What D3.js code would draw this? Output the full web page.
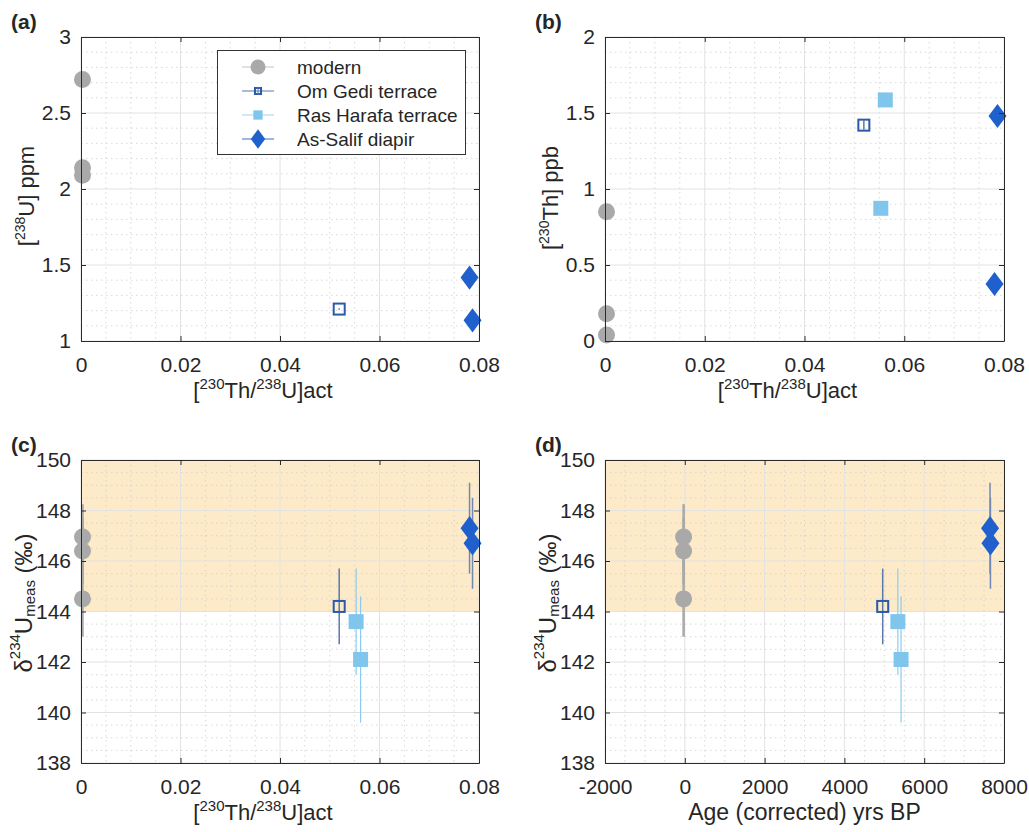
<!DOCTYPE html>
<html>
<head>
<meta charset="utf-8">
<script src="https://d3js.org/d3.v7.min.js"></script>
<style>
  body { margin: 0; background: #fff; }
  text { font-family: 'Liberation Sans', Arial, Helvetica, sans-serif; fill: #262626; }
</style>
</head>
<body>
<div id="chart"></div>
<script>
// ---- data ----

// modern corals
const modernThU = [0.0003, 0.0003, 0.0003];
const modernU = [2.72, 2.14, 2.09];
const modernTh = [0.85, 0.18, 0.04];
const modernD234 = [146.95, 146.4, 144.5];
const modernD234Err = [1.3, 1.3, 1.5];
const modernAge = [-30, -30, -30];

// Om Gedi terrace
const omGediThU = [0.0519];
const omGediU = [1.21];
const omGediUErr = [0.005];
const omGediTh = [1.42];
const omGediThErr = [0.03];
const omGediD234 = [144.2];
const omGediD234Err = [1.5];
const omGediAge = [4960];

// Ras Harafa terrace (no [238U] value)
const rasHarafaThU = [0.0553, 0.0562];
const rasHarafaTh = [0.873, 1.586];
const rasHarafaD234 = [143.6, 142.1];
const rasHarafaD234Err = [2.1, 2.5];
const rasHarafaAge = [5340, 5420];

// As-Salif diapir
const asSalifThU = [0.0781, 0.0787];
const asSalifU = [1.417, 1.136];
const asSalifTh = [0.375, 1.48];
const asSalifD234 = [147.3, 146.7];
const asSalifD234Err = [1.8, 1.8];
const asSalifAge = [7650, 7660];

// seawater band for d234U
const seawaterBand = [144, 150];

// axis ticks
const thuTicks = [0, 0.02, 0.04, 0.06, 0.08];
const uTicks = [1, 1.5, 2, 2.5, 3];
const thTicks = [0, 0.5, 1, 1.5, 2];
const d234Ticks = [138, 140, 142, 144, 146, 148, 150];
const ageTicks = [-2000, 0, 2000, 4000, 6000, 8000];

const legendNames = ["modern", "Om Gedi terrace", "Ras Harafa terrace", "As-Salif diapir"];

// ---- styles ----
const styles = {
  modern:    { shape: "circle", size: 17, fill: "#a9a9a9", stroke: "none", err: "#a9a9a9", errW: 2.5, legLine: "#c4c4c4" },
  omGedi:    { shape: "square", size: 13, fill: "none", stroke: "#2a5aa8", err: "#5a78a8", errW: 1.5, legLine: "#5a78a8" },
  rasHarafa: { shape: "square", size: 15, fill: "#80c6ec", stroke: "none", err: "#8ccbef", errW: 1.2, legLine: "#9fd3f0" },
  asSalif:   { shape: "diamond", size: 18, fill: "#1f60cc", stroke: "none", err: "#7088b3", errW: 1.5, legLine: "#3c6fc4" }
};

const width = 1029;
const height = 832;

const svg = d3.select("#chart")
    .append("svg")
    .attr("width", width)
    .attr("height", height);

function drawMarker(sel, st, cx, cy, s) {
  const size = st.size * s;
  if (st.shape === "circle") {
    sel.append("circle").attr("cx", cx).attr("cy", cy).attr("r", size / 2)
        .attr("fill", st.fill);
  } else if (st.shape === "square") {
    const inset = st.fill === "none" ? 1 : 0;
    sel.append("rect")
        .attr("x", cx - size / 2 + inset).attr("y", cy - size / 2 + inset)
        .attr("width", size - 2 * inset).attr("height", size - 2 * inset)
        .attr("fill", st.fill).attr("stroke", st.stroke).attr("stroke-width", 2);
  } else {
    const hw = size / 2, hh = size * 0.67;
    sel.append("path")
        .attr("d", `M${cx},${cy - hh}L${cx + hw},${cy}L${cx},${cy + hh}L${cx - hw},${cy}Z`)
        .attr("fill", st.fill);
  }
}

// text with super / subscripts; parts are plain strings or {sup} / {sub} objects
function richText(text, parts, o) {
  let cur = 0;
  parts.forEach(function(part) {
    let str = part, fs = o.size, target = 0;
    if (typeof part !== "string") {
      if (part.up !== undefined) { str = part.up; fs = o.supSize; target = -o.supRaise; }
      else { str = part.down; fs = o.subSize; target = o.subDrop; }
    }
    text.append("tspan")
        .attr("font-size", fs)
        .attr("dy", target - cur)
        .text(str);
    cur = target;
  });
}

const thuLabel = ["[", {up: "230"}, "Th/", {up: "238"}, "U]act"];
const d234Label = ["δ", {up: "234"}, "U", {down: "meas"}, " (‰)"];

const xLabelFont = { size: 22, supSize: 15, supRaise: 9 };
const concLabelFont = { size: 22, supSize: 14, supRaise: 9 };
const d234LabelFont = { size: 24, supSize: 15, supRaise: 12, subSize: 15, subDrop: 3 };

function drawPanel(p) {
  const x = d3.scaleLinear().domain(p.xDomain).range([p.left, p.left + p.w]);
  const y = d3.scaleLinear().domain(p.yDomain).range([p.top + p.h, p.top]);
  const g = svg.append("g");

  if (p.band) {
    g.append("rect")
        .attr("x", x(p.xDomain[0])).attr("y", y(p.band[1]))
        .attr("width", x(p.xDomain[1]) - x(p.xDomain[0]))
        .attr("height", y(p.band[0]) - y(p.band[1]))
        .attr("fill", "#fdeac8");
  }

  // minor grid
  const nx = Math.round((p.xDomain[1] - p.xDomain[0]) / p.xMinor);
  const ny = Math.round((p.yDomain[1] - p.yDomain[0]) / p.yMinor);
  const xMinor = d3.range(1, nx).map(i => p.xDomain[0] + i * p.xMinor)
      .filter(v => !p.xTicks.some(t => Math.abs(t - v) < p.xMinor / 10));
  const yMinor = d3.range(1, ny).map(i => p.yDomain[0] + i * p.yMinor)
      .filter(v => !p.yTicks.some(t => Math.abs(t - v) < p.yMinor / 10));

  g.selectAll(".vminor").data(xMinor).enter().append("line")
      .attr("x1", d => x(d)).attr("x2", d => x(d))
      .attr("y1", p.top).attr("y2", p.top + p.h)
      .attr("stroke", "#cfcfcf").attr("stroke-width", 0.8).attr("stroke-dasharray", "1.5,3.5");
  g.selectAll(".hminor").data(yMinor).enter().append("line")
      .attr("y1", d => y(d)).attr("y2", d => y(d))
      .attr("x1", p.left).attr("x2", p.left + p.w)
      .attr("stroke", "#cfcfcf").attr("stroke-width", 0.8).attr("stroke-dasharray", "1.5,3.5");

  // major grid
  g.selectAll(".vmajor").data(p.xTicks).enter().append("line")
      .attr("x1", d => x(d)).attr("x2", d => x(d))
      .attr("y1", p.top).attr("y2", p.top + p.h)
      .attr("stroke", "#e2e2e2").attr("stroke-width", 1);
  g.selectAll(".hmajor").data(p.yTicks).enter().append("line")
      .attr("y1", d => y(d)).attr("y2", d => y(d))
      .attr("x1", p.left).attr("x2", p.left + p.w)
      .attr("stroke", "#e2e2e2").attr("stroke-width", 1);

  // error bars
  p.series.forEach(function(s) {
    if (!s.errs) return;
    g.append("g").selectAll("line").data(s.xs.map((v, i) => i)).enter().append("line")
        .attr("x1", i => x(s.xs[i])).attr("x2", i => x(s.xs[i]))
        .attr("y1", i => y(s.ys[i] - s.errs[i])).attr("y2", i => y(s.ys[i] + s.errs[i]))
        .attr("stroke", s.style.err).attr("stroke-width", s.style.errW);
  });

  // markers
  p.series.forEach(function(s) {
    const mg = g.append("g");
    s.xs.forEach((v, i) => drawMarker(mg, s.style, x(v), y(s.ys[i]), 1));
  });

  // axes with inward ticks on all sides
  const fmt = d => String(d);
  g.append("g")
      .attr("transform", `translate(0,${p.top + p.h})`)
      .call(d3.axisBottom(x).tickValues(p.xTicks).tickFormat(fmt)
          .tickSizeInner(-5).tickSizeOuter(0).tickPadding(16));
  g.append("g")
      .attr("transform", `translate(${p.left},0)`)
      .call(d3.axisLeft(y).tickValues(p.yTicks).tickFormat(fmt)
          .tickSizeInner(-5).tickSizeOuter(0).tickPadding(10));
  g.append("g")
      .attr("transform", `translate(0,${p.top})`)
      .call(d3.axisTop(x).tickValues(p.xTicks).tickFormat("").tickSizeInner(-5).tickSizeOuter(0));
  g.append("g")
      .attr("transform", `translate(${p.left + p.w},0)`)
      .call(d3.axisRight(y).tickValues(p.yTicks).tickFormat("").tickSizeInner(-5).tickSizeOuter(0));

  g.selectAll(".domain").attr("stroke", "#2b2b2b").attr("stroke-width", 1);
  g.selectAll(".tick line").attr("stroke", "#2b2b2b").attr("stroke-width", 1);
  g.selectAll(".tick text")
      .attr("font-size", 21)
      .attr("font-family", "'Liberation Sans', Arial, sans-serif")
      .attr("fill", "#262626");

  // labels
  const xl = g.append("text")
      .attr("x", p.left + p.w / 2 + p.xLabelShift).attr("y", p.top + p.h + 57)
      .attr("text-anchor", "middle");
  richText(xl, p.xLabel, p.xLabelFont);

  const yl = g.append("text")
      .attr("transform", `translate(${p.left - p.yLabelOff},${p.yLabelMid}) rotate(-90)`)
      .attr("text-anchor", "middle");
  richText(yl, p.yLabel, p.yLabelFont);

  g.append("text")
      .attr("x", p.letterX).attr("y", p.letterY)
      .attr("font-size", 21).attr("font-weight", "bold")
      .text(p.letter);

  return g;
}

// (a) [238U]
drawPanel({
  left: 81, top: 37, w: 398, h: 304,
  xDomain: [0, 0.08], yDomain: [1, 3], xTicks: thuTicks, yTicks: uTicks,
  xMinor: 0.005, yMinor: 0.1,
  xLabel: thuLabel, xLabelFont: xLabelFont, xLabelShift: -17,
  yLabel: ["[", {up: "238"}, "U] ppm"], yLabelFont: concLabelFont, yLabelOff: 47, yLabelMid: 196,
  letter: "(a)", letterX: 11, letterY: 29,
  series: [
    { style: styles.modern, xs: modernThU, ys: modernU },
    { style: styles.omGedi, xs: omGediThU, ys: omGediU, errs: omGediUErr },
    { style: styles.asSalif, xs: asSalifThU, ys: asSalifU }
  ]
});

// (b) [230Th]
drawPanel({
  left: 605, top: 37, w: 399, h: 304,
  xDomain: [0, 0.08], yDomain: [0, 2], xTicks: thuTicks, yTicks: thTicks,
  xMinor: 0.005, yMinor: 0.1,
  xLabel: thuLabel, xLabelFont: xLabelFont, xLabelShift: -17,
  yLabel: ["[", {up: "230"}, "Th] ppb"], yLabelFont: concLabelFont, yLabelOff: 47, yLabelMid: 198,
  letter: "(b)", letterX: 535, letterY: 29,
  series: [
    { style: styles.modern, xs: modernThU, ys: modernTh },
    { style: styles.omGedi, xs: omGediThU, ys: omGediTh, errs: omGediThErr },
    { style: styles.rasHarafa, xs: rasHarafaThU, ys: rasHarafaTh },
    { style: styles.asSalif, xs: asSalifThU, ys: asSalifTh }
  ]
});

// (c) d234U vs activity ratio
drawPanel({
  left: 81, top: 460, w: 398, h: 303,
  xDomain: [0, 0.08], yDomain: [138, 150], xTicks: thuTicks, yTicks: d234Ticks,
  xMinor: 0.005, yMinor: 0.5, band: seawaterBand,
  xLabel: thuLabel, xLabelFont: xLabelFont, xLabelShift: -17,
  yLabel: d234Label, yLabelFont: d234LabelFont, yLabelOff: 49, yLabelMid: 603,
  letter: "(c)", letterX: 11, letterY: 452,
  series: [
    { style: styles.modern, xs: modernThU, ys: modernD234, errs: modernD234Err },
    { style: styles.omGedi, xs: omGediThU, ys: omGediD234, errs: omGediD234Err },
    { style: styles.rasHarafa, xs: rasHarafaThU, ys: rasHarafaD234, errs: rasHarafaD234Err },
    { style: styles.asSalif, xs: asSalifThU, ys: asSalifD234, errs: asSalifD234Err }
  ]
});

// (d) d234U vs age
drawPanel({
  left: 605, top: 460, w: 399, h: 303,
  xDomain: [-2000, 8000], yDomain: [138, 150], xTicks: ageTicks, yTicks: d234Ticks,
  xMinor: 500, yMinor: 0.5, band: seawaterBand,
  xLabel: ["Age (corrected) yrs BP"], xLabelFont: { size: 23 }, xLabelShift: 0,
  yLabel: d234Label, yLabelFont: d234LabelFont, yLabelOff: 49, yLabelMid: 603,
  letter: "(d)", letterX: 535, letterY: 452,
  series: [
    { style: styles.modern, xs: modernAge, ys: modernD234, errs: modernD234Err },
    { style: styles.omGedi, xs: omGediAge, ys: omGediD234, errs: omGediD234Err },
    { style: styles.rasHarafa, xs: rasHarafaAge, ys: rasHarafaD234, errs: rasHarafaD234Err },
    { style: styles.asSalif, xs: asSalifAge, ys: asSalifD234, errs: asSalifD234Err }
  ]
});

// legend in (a)
const legend = svg.append("g");
legend.append("rect")
    .attr("x", 217.5).attr("y", 50.5).attr("width", 248).attr("height", 104)
    .attr("fill", "#fff").attr("stroke", "#333").attr("stroke-width", 1);

const legendStyles = [styles.modern, styles.omGedi, styles.rasHarafa, styles.asSalif];
const legendScale = [0.88, 0.62, 0.62, 0.8];
legendNames.forEach(function(name, i) {
  const cy = 67 + i * 24;
  const st = legendStyles[i];
  legend.append("line")
      .attr("x1", 242).attr("x2", 274).attr("y1", cy).attr("y2", cy)
      .attr("stroke", st.legLine).attr("stroke-width", 1);
  drawMarker(legend, st, 258, cy, legendScale[i]);
  if (st.fill === "none") {
    legend.append("line")
        .attr("x1", 258).attr("x2", 258).attr("y1", cy - 4).attr("y2", cy + 4)
        .attr("stroke", st.legLine).attr("stroke-width", 1);
  }
  legend.append("text")
      .attr("x", 297).attr("y", cy + 7)
      .attr("font-size", 19)
      .text(name);
});
</script>
</body>
</html>
